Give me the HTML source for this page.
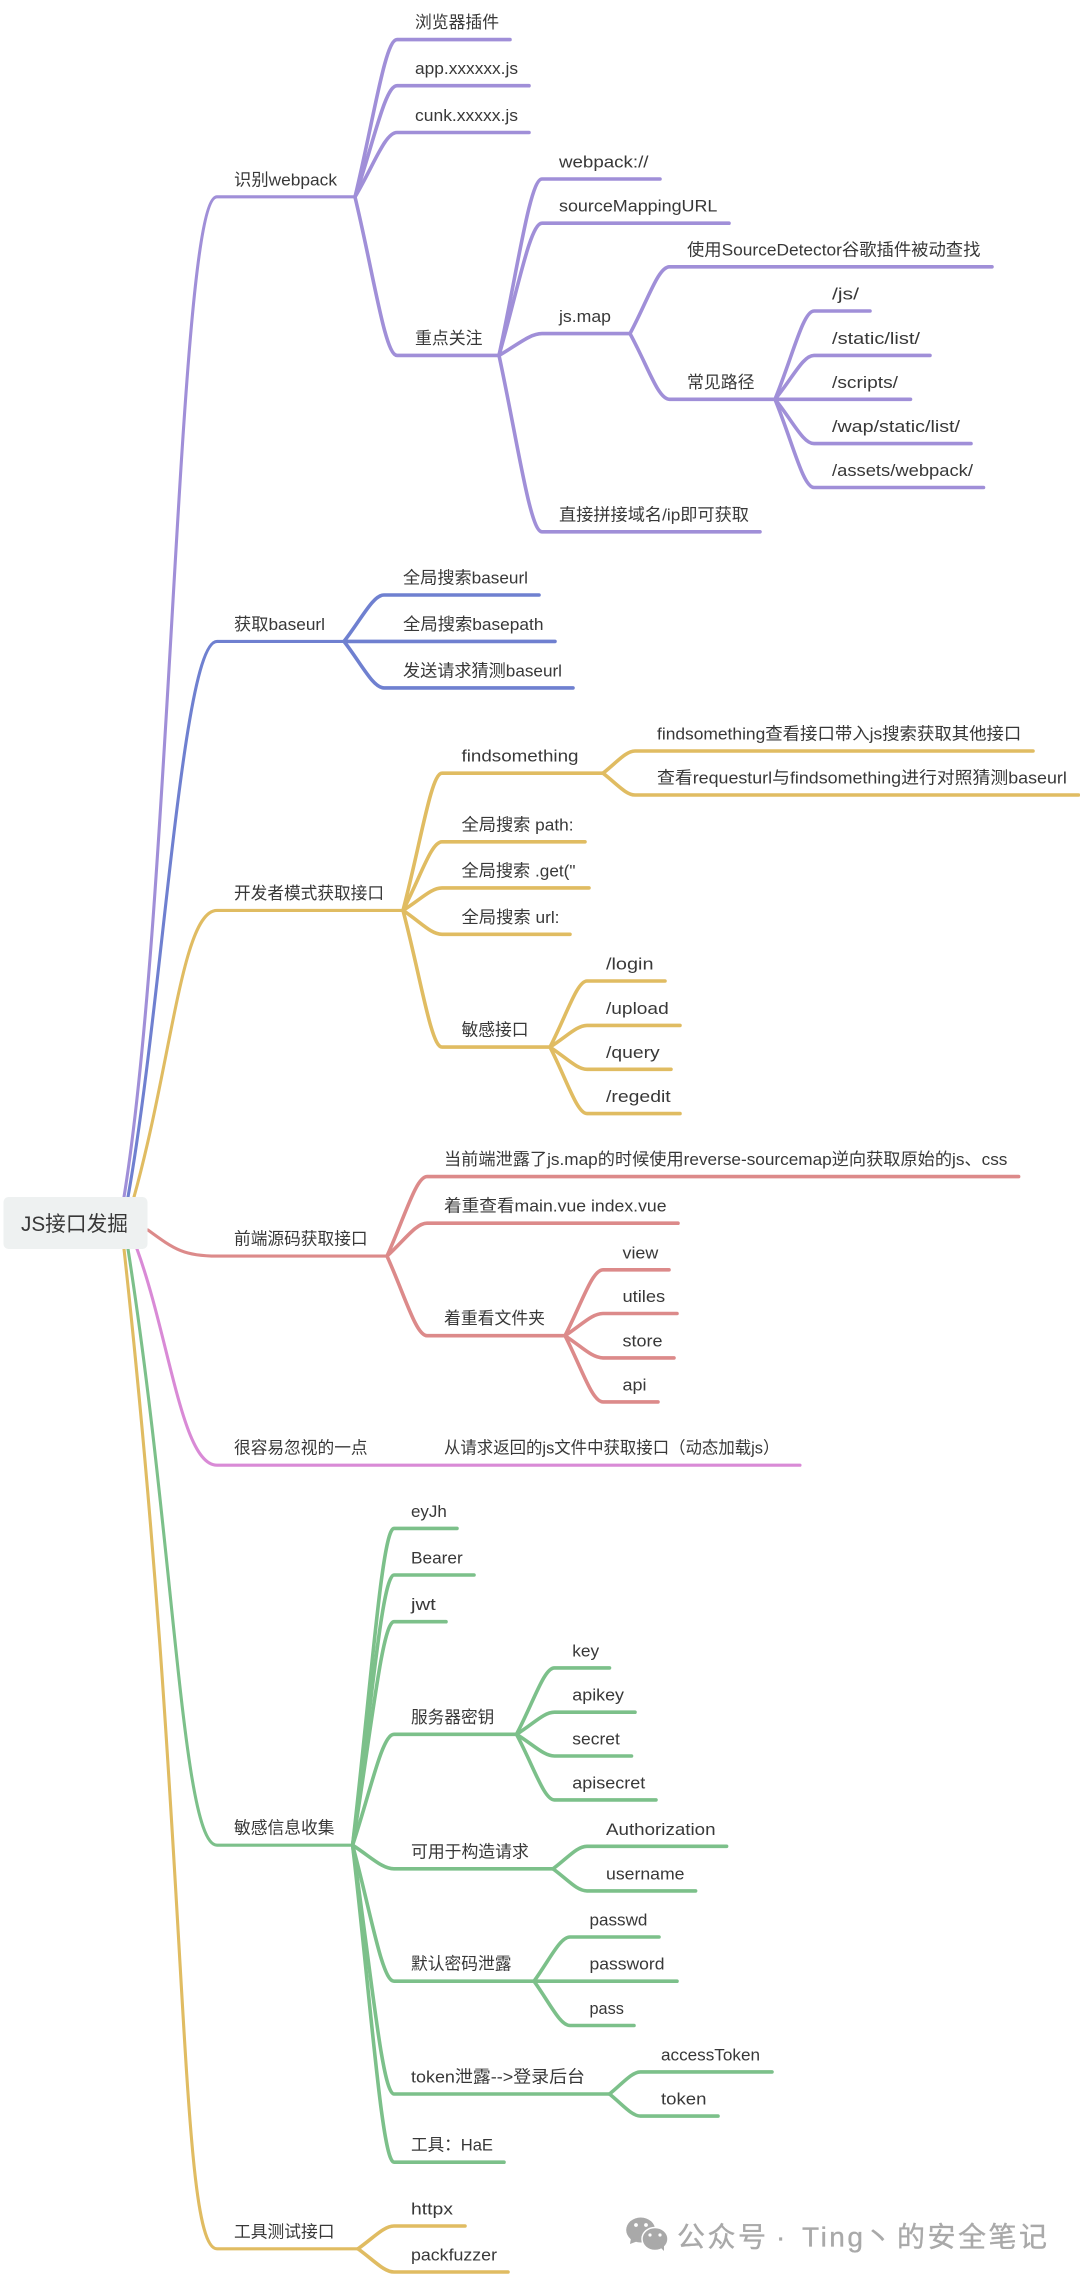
<!DOCTYPE html>
<html><head><meta charset="utf-8"><style>
html,body{margin:0;padding:0;background:#fff}
svg{display:block}
path{fill:none;stroke-linecap:round;stroke-linejoin:round;stroke-width:3.6}
path.r{stroke-width:3.1}
text{font-family:"Liberation Sans","Noto Sans CJK SC",sans-serif;font-size:16.8px;fill:#383838}
text.w{font-size:28px;fill:#a9a9a9;stroke:#a9a9a9;stroke-width:.35;letter-spacing:2.5px}
</style></head><body>
<svg width="1080" height="2278" viewBox="0 0 1080 2278" xmlns="http://www.w3.org/2000/svg">
<rect width="1080" height="2278" fill="#fff"/>
<g stroke="#a08fd8">
<path class="r" d="M124 1197C172 900 178 196.8 217 196.8H355"/>
<path d="M355 197C374 118.3 385 39.6 397 39.6H510"/>
<path d="M355 197C374 141.4 385 85.7 397 85.7H529"/>
<path d="M355 197C374 164.8 385 132.5 397 132.5H529"/>
<path d="M355 197C374 276.2 385 355.4 397 355.4H499"/>
<path d="M499 355.4C518 267.2 530 179 542 179H660"/>
<path d="M499 355.4C518 289.3 530 223.2 542 223.2H729"/>
<path d="M499 355.4C518 344.5 530 333.6 542 333.6H630"/>
<path d="M499 355.4C518 443.6 530 531.8 542 531.8H760"/>
<path d="M630 333.6C648 300.2 658 266.8 669.5 266.8H992"/>
<path d="M630 333.6C648 366.5 658 399.3 669.5 399.3H775"/>
<path d="M775 399.3C793 355.2 803 311 814 311H870"/>
<path d="M775 399.3C793 377.4 803 355.4 814 355.4H930"/>
<path d="M775 399.3H910.5"/>
<path d="M775 399.3C793 421.5 803 443.6 814 443.6H971"/>
<path d="M775 399.3C793 443.4 803 487.5 814 487.5H983.5"/>
</g>
<g stroke="#6f80d0">
<path class="r" d="M128 1197C163 1000 182 641.4 217 641.4H344"/>
<path d="M344 641.4C362 618.2 373 595 384 595H539"/>
<path d="M344 641.4H555"/>
<path d="M344 641.4C362 664.7 373 687.9 384 687.9H573"/>
</g>
<g stroke="#e0bc62">
<path class="r" d="M134 1197C172 1060 182 910.4 217 910.4H403"/>
<path d="M403 910.4C421 841.8 431 773.2 442 773.2H603"/>
<path d="M403 910.4C421 876.1 431 841.8 442 841.8H585"/>
<path d="M403 910.4C421 899.2 431 887.9 442 887.9H589"/>
<path d="M403 910.4C421 922.4 431 934.3 442 934.3H570"/>
<path d="M403 910.4C421 978.8 431 1047.1 442 1047.1H550"/>
<path d="M603 773.2C617 762.1 626 751 635 751H1033"/>
<path d="M603 773.2C617 784.1 626 795 635 795H1078.5"/>
<path d="M550 1047.1C567 1014 577 981 587 981H665"/>
<path d="M550 1047.1C567 1036.3 577 1025.4 587 1025.4H680"/>
<path d="M550 1047.1C567 1058.2 577 1069.3 587 1069.3H671"/>
<path d="M550 1047.1C567 1080.4 577 1113.6 587 1113.6H680"/>
<path class="r" d="M124 1249C190 1850 178 2248.8 217 2248.8H358"/>
<path d="M358 2248.8C374 2237.4 384 2226 394 2226H465"/>
<path d="M358 2248.8C374 2260.4 384 2272 394 2272H508"/>
</g>
<g stroke="#dc8a8a">
<path class="r" d="M148 1230C175 1250 185 1256.1 217 1256.1H387"/>
<path d="M387 1256.1C405 1216.4 416 1176.6 427 1176.6H1018.6"/>
<path d="M387 1256.1C405 1239.7 416 1223.2 427 1223.2H678"/>
<path d="M387 1256.1C405 1295.9 416 1335.7 427 1335.7H565"/>
<path d="M565 1335.7C582 1302.8 592 1269.8 603 1269.8H669"/>
<path d="M565 1335.7C582 1324.6 592 1313.5 603 1313.5H677"/>
<path d="M565 1335.7C582 1346.8 592 1357.9 603 1357.9H674"/>
<path d="M565 1335.7C582 1368.8 592 1401.9 603 1401.9H658"/>
</g>
<g stroke="#d98ad6">
<path class="r" d="M137 1249C170 1340 182 1465.2 217 1465.2H800"/>
</g>
<g stroke="#7cc08a">
<path class="r" d="M128 1249C175 1550 182 1845.2 217 1845.2H352.6"/>
<path d="M352.6 1845.2C371 1686.8 382 1528.4 394 1528.4H457"/>
<path d="M352.6 1845.2C371 1710.1 382 1575 394 1575H474"/>
<path d="M352.6 1845.2C371 1733.5 382 1621.7 394 1621.7H446"/>
<path d="M352.6 1845.2C371 1789.8 382 1734.3 394 1734.3H516.5"/>
<path d="M352.6 1845.2C371 1857 382 1868.8 394 1868.8H553"/>
<path d="M352.6 1845.2C371 1913.2 382 1981.2 394 1981.2H534"/>
<path d="M352.6 1845.2C371 1969.6 382 2094 394 2094H609.5"/>
<path d="M352.6 1845.2C371 2003.7 382 2162.2 394 2162.2H504"/>
<path d="M516.5 1734.3C534 1701.1 544 1667.9 554.4 1667.9H609.5"/>
<path d="M516.5 1734.3C534 1723.3 544 1712.2 554.4 1712.2H635"/>
<path d="M516.5 1734.3C534 1745.2 544 1756 554.4 1756H631.5"/>
<path d="M516.5 1734.3C534 1767.1 544 1799.9 554.4 1799.9H656"/>
<path d="M553 1868.8C568 1857.6 577 1846.3 587 1846.3H726.6"/>
<path d="M553 1868.8C568 1879.9 577 1890.9 587 1890.9H695.6"/>
<path d="M534 1981.2C550 1959.1 560 1937 570 1937H659"/>
<path d="M534 1981.2H677"/>
<path d="M534 1981.2C550 2003.4 560 2025.5 570 2025.5H634"/>
<path d="M609.5 2094C623 2083 632 2071.9 640.5 2071.9H772"/>
<path d="M609.5 2094C623 2105 632 2116.1 640.5 2116.1H718"/>
</g>
<rect x="3.5" y="1197" width="144" height="52" rx="5" fill="#eef1f1"/>
<text x="21" y="1231" style="font-size:21px" textLength="107" lengthAdjust="spacingAndGlyphs">JS接口发掘</text>
<text x="234" y="185.3" textLength="103" lengthAdjust="spacingAndGlyphs">识别webpack</text>
<text x="415" y="28.1" textLength="84" lengthAdjust="spacingAndGlyphs">浏览器插件</text>
<text x="415" y="74.2" textLength="103" lengthAdjust="spacingAndGlyphs">app.xxxxxx.js</text>
<text x="415" y="121" textLength="103" lengthAdjust="spacingAndGlyphs">cunk.xxxxx.js</text>
<text x="415" y="343.9" textLength="67.5" lengthAdjust="spacingAndGlyphs">重点关注</text>
<text x="559" y="167.5" textLength="89.5" lengthAdjust="spacingAndGlyphs">webpack://</text>
<text x="559" y="211.7" textLength="158.4" lengthAdjust="spacingAndGlyphs">sourceMappingURL</text>
<text x="559" y="322.1" textLength="52" lengthAdjust="spacingAndGlyphs">js.map</text>
<text x="559" y="520.3" textLength="190" lengthAdjust="spacingAndGlyphs">直接拼接域名/ip即可获取</text>
<text x="687" y="255.3" textLength="293.4" lengthAdjust="spacingAndGlyphs">使用SourceDetector谷歌插件被动查找</text>
<text x="687" y="387.8" textLength="67.5" lengthAdjust="spacingAndGlyphs">常见路径</text>
<text x="832" y="299.5" textLength="27" lengthAdjust="spacingAndGlyphs">/js/</text>
<text x="832" y="343.9" textLength="88" lengthAdjust="spacingAndGlyphs">/static/list/</text>
<text x="832" y="387.8" textLength="66" lengthAdjust="spacingAndGlyphs">/scripts/</text>
<text x="832" y="432.1" textLength="128" lengthAdjust="spacingAndGlyphs">/wap/static/list/</text>
<text x="832" y="476" textLength="141" lengthAdjust="spacingAndGlyphs">/assets/webpack/</text>
<text x="234" y="629.9" textLength="91" lengthAdjust="spacingAndGlyphs">获取baseurl</text>
<text x="403" y="583.5" textLength="125" lengthAdjust="spacingAndGlyphs">全局搜索baseurl</text>
<text x="403" y="629.9" textLength="140.5" lengthAdjust="spacingAndGlyphs">全局搜索basepath</text>
<text x="403" y="676.4" textLength="159" lengthAdjust="spacingAndGlyphs">发送请求猜测baseurl</text>
<text x="234" y="898.9" textLength="150" lengthAdjust="spacingAndGlyphs">开发者模式获取接口</text>
<text x="461.5" y="761.7" textLength="117" lengthAdjust="spacingAndGlyphs">findsomething</text>
<text x="657" y="739.5" textLength="364.3" lengthAdjust="spacingAndGlyphs">findsomething查看接口带入js搜索获取其他接口</text>
<text x="657" y="783.5" textLength="409.8" lengthAdjust="spacingAndGlyphs">查看requesturl与findsomething进行对照猜测baseurl</text>
<text x="461.5" y="830.3" textLength="112" lengthAdjust="spacingAndGlyphs">全局搜索 path:</text>
<text x="461.5" y="876.4" textLength="114" lengthAdjust="spacingAndGlyphs">全局搜索 .get("</text>
<text x="461.5" y="922.8" textLength="98" lengthAdjust="spacingAndGlyphs">全局搜索 url:</text>
<text x="461.5" y="1035.6" textLength="67" lengthAdjust="spacingAndGlyphs">敏感接口</text>
<text x="606" y="969.5" textLength="47.5" lengthAdjust="spacingAndGlyphs">/login</text>
<text x="606" y="1013.9" textLength="62.7" lengthAdjust="spacingAndGlyphs">/upload</text>
<text x="606" y="1057.8" textLength="53.7" lengthAdjust="spacingAndGlyphs">/query</text>
<text x="606" y="1102.1" textLength="64.7" lengthAdjust="spacingAndGlyphs">/regedit</text>
<text x="234" y="1244.6" textLength="133.6" lengthAdjust="spacingAndGlyphs">前端源码获取接口</text>
<text x="444" y="1165.1" textLength="563.4" lengthAdjust="spacingAndGlyphs">当前端泄露了js.map的时候使用reverse-sourcemap逆向获取原始的js、css</text>
<text x="444" y="1211.7" textLength="222.5" lengthAdjust="spacingAndGlyphs">着重查看main.vue index.vue</text>
<text x="444" y="1324.2" textLength="101" lengthAdjust="spacingAndGlyphs">着重看文件夹</text>
<text x="622.5" y="1258.3" textLength="35.8" lengthAdjust="spacingAndGlyphs">view</text>
<text x="622.5" y="1302" textLength="42.7" lengthAdjust="spacingAndGlyphs">utiles</text>
<text x="622.5" y="1346.4" textLength="40" lengthAdjust="spacingAndGlyphs">store</text>
<text x="622.5" y="1390.4" textLength="24" lengthAdjust="spacingAndGlyphs">api</text>
<text x="234" y="1453.7" textLength="133.6" lengthAdjust="spacingAndGlyphs">很容易忽视的一点</text>
<text x="444" y="1453.7" textLength="335.4" lengthAdjust="spacingAndGlyphs">从请求返回的js文件中获取接口（动态加载js）</text>
<text x="234" y="1833.7" textLength="100.5" lengthAdjust="spacingAndGlyphs">敏感信息收集</text>
<text x="411" y="1516.9" textLength="35.8" lengthAdjust="spacingAndGlyphs">eyJh</text>
<text x="411" y="1563.5" textLength="51.7" lengthAdjust="spacingAndGlyphs">Bearer</text>
<text x="411" y="1610.2" textLength="24.8" lengthAdjust="spacingAndGlyphs">jwt</text>
<text x="411" y="1722.8" textLength="83.3" lengthAdjust="spacingAndGlyphs">服务器密钥</text>
<text x="572.3" y="1656.4" textLength="26.9" lengthAdjust="spacingAndGlyphs">key</text>
<text x="572.3" y="1700.7" textLength="51.7" lengthAdjust="spacingAndGlyphs">apikey</text>
<text x="572.3" y="1744.5" textLength="47.5" lengthAdjust="spacingAndGlyphs">secret</text>
<text x="572.3" y="1788.4" textLength="73" lengthAdjust="spacingAndGlyphs">apisecret</text>
<text x="411" y="1857.3" textLength="117.8" lengthAdjust="spacingAndGlyphs">可用于构造请求</text>
<text x="606" y="1834.8" textLength="109.5" lengthAdjust="spacingAndGlyphs">Authorization</text>
<text x="606" y="1879.4" textLength="78.5" lengthAdjust="spacingAndGlyphs">username</text>
<text x="411" y="1969.7" textLength="100.5" lengthAdjust="spacingAndGlyphs">默认密码泄露</text>
<text x="589.5" y="1925.5" textLength="57.9" lengthAdjust="spacingAndGlyphs">passwd</text>
<text x="589.5" y="1969.7" textLength="75" lengthAdjust="spacingAndGlyphs">password</text>
<text x="589.5" y="2014" textLength="34.4" lengthAdjust="spacingAndGlyphs">pass</text>
<text x="411" y="2082.5" textLength="174" lengthAdjust="spacingAndGlyphs">token泄露--&gt;登录后台</text>
<text x="661" y="2060.4" textLength="99" lengthAdjust="spacingAndGlyphs">accessToken</text>
<text x="661" y="2104.6" textLength="45.5" lengthAdjust="spacingAndGlyphs">token</text>
<text x="411" y="2150.7" textLength="82" lengthAdjust="spacingAndGlyphs">工具：HaE</text>
<text x="234" y="2237.3" textLength="100.5" lengthAdjust="spacingAndGlyphs">工具测试接口</text>
<text x="411" y="2214.5" textLength="42" lengthAdjust="spacingAndGlyphs">httpx</text>
<text x="411" y="2260.5" textLength="86" lengthAdjust="spacingAndGlyphs">packfuzzer</text>
<ellipse cx="640.7" cy="2230" rx="14.5" ry="12.5" fill="#a9a9a9"/>
<polygon points="631,2238 630,2244 638,2241" fill="#a9a9a9"/>
<ellipse cx="655" cy="2239" rx="13" ry="11.5" fill="#a9a9a9" stroke="#fff" stroke-width="1.5"/>
<polygon points="660,2247 664,2251 664,2244" fill="#a9a9a9"/>
<circle cx="636" cy="2225" r="1.9" fill="#fff"/><circle cx="646" cy="2225" r="1.9" fill="#fff"/>
<circle cx="650" cy="2235" r="1.6" fill="#fff"/><circle cx="660" cy="2235" r="1.6" fill="#fff"/>
<text class="w" x="677" y="2246.5">公众号</text>
<text class="w" x="776" y="2246.5">·</text>
<text class="w" x="802" y="2246.5">Ting</text>
<text class="w" x="864" y="2246.5">丶</text>
<text class="w" x="897" y="2246.5">的安全笔记</text>
</svg>
</body></html>
